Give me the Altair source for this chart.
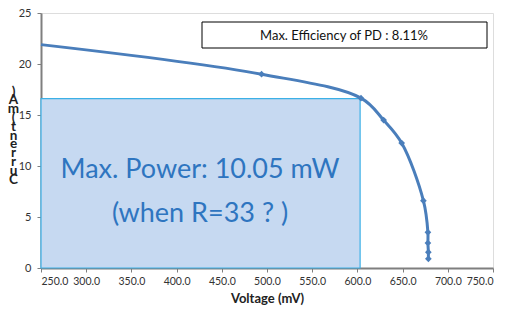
import altair as alt
import pandas as pd

# Data
voltage_mv = [250, 494, 604, 629, 649, 673, 678, 678, 678.5, 678.5]
current_ma = [21.9, 19.0, 16.65, 14.5, 12.25, 6.6, 3.5, 2.45, 1.55, 0.9]
show_marker = [False, True, True, True, True, True, True, True, True, True]

rect_v = [250, 603]
rect_i = [0, 16.6]

x_ticks = [250, 300, 350, 400, 450, 500, 550, 600, 650, 700, 750]
y_ticks = [0, 5, 10, 15, 20, 25]

eff_text = "Max. Efficiency of PD : 8.11%"
power_text = ["Max. Power: 10.05 mW", "(when R=33 ? )"]
y_title = [")", "A", "m", "(", " ", "t", "n", "e", "r", "r", "u", "C"]

FONT = "Lato"

df = pd.DataFrame({"V": voltage_mv, "I": current_ma, "m": show_marker,
                   "idx": list(range(len(voltage_mv)))})
rect_df = pd.DataFrame({"x": [rect_v[0]], "x2": [rect_v[1]],
                        "y": [rect_i[0]], "y2": [rect_i[1]]})
one = pd.DataFrame({"a": [0]})

xscale = alt.Scale(domain=[250, 750], nice=False, zero=False)
yscale = alt.Scale(domain=[0, 25], nice=False)

xaxis = alt.Axis(values=x_ticks, format=".1f", title="Voltage (mV)",
                 grid=False, labelFont=FONT, labelFontSize=10.5, labelColor="#333333",
                 titleFont=FONT, titleFontSize=13, titleFontWeight="bold",
                 titleColor="#222222", titlePadding=6,
                 domainColor="#7f7f7f", domainWidth=2, tickColor="#7f7f7f",
                 tickSize=4, labelPadding=4)
yaxis = alt.Axis(values=y_ticks, title=y_title, grid=False, labelFont=FONT,
                 labelFontSize=11, labelColor="#333333",
                 titleFont=FONT, titleFontSize=13.5, titleFontWeight="bold",
                 titleColor="#222222", titleAngle=0, titleAlign="center",
                 titleBaseline="top", titleX=-28, titleY=71, titleLineHeight=8.8,
                 domainColor="#7f7f7f", domainWidth=2, tickColor="#7f7f7f",
                 tickSize=4, labelPadding=6)

rect = alt.Chart(rect_df).mark_rect(fill="#c6d9f1", stroke="#3cb0e6",
                                    strokeWidth=1.2).encode(
    x=alt.X("x:Q", scale=xscale, axis=xaxis),
    x2="x2:Q",
    y=alt.Y("y:Q", scale=yscale, axis=yaxis),
    y2="y2:Q",
)

line = alt.Chart(df).mark_line(color="#4a7ebb", strokeWidth=3,
                               interpolate="catmull-rom").encode(
    x=alt.X("V:Q", scale=xscale),
    y=alt.Y("I:Q", scale=yscale),
    order="idx:Q",
)

points = alt.Chart(df).transform_filter("datum.m").mark_point(
    shape="diamond", filled=True, color="#4a7ebb", size=45, opacity=1).encode(
    x=alt.X("V:Q", scale=xscale),
    y=alt.Y("I:Q", scale=yscale),
)

eff_box = alt.Chart(one).mark_rect(fill="white", stroke="black",
                                   strokeWidth=1).encode(
    x=alt.value(161), x2=alt.value(446), y=alt.value(9), y2=alt.value(35))
eff_label = alt.Chart(one).mark_text(font=FONT, fontSize=13, color="#111111",
                                     align="center", baseline="middle",
                                     text=eff_text).encode(
    x=alt.value(303), y=alt.value(23))

power_label = alt.Chart(one).mark_text(font=FONT, fontSize=27, color="#2e75c0",
                                       align="center", baseline="alphabetic",
                                       lineHeight=44, text=power_text).encode(
    x=alt.value(159), y=alt.value(165))

chart = alt.layer(rect, line, points, eff_box, eff_label, power_label).properties(
    width=452, height=255,
    autosize=alt.AutoSizeParams(type="none"),
    padding={"left": 41, "top": 13, "right": 14, "bottom": 52},
).configure_view(stroke="black", strokeWidth=1).configure(background="white")

chart.save("out.html", embed_options={"renderer": "svg", "actions": False})
